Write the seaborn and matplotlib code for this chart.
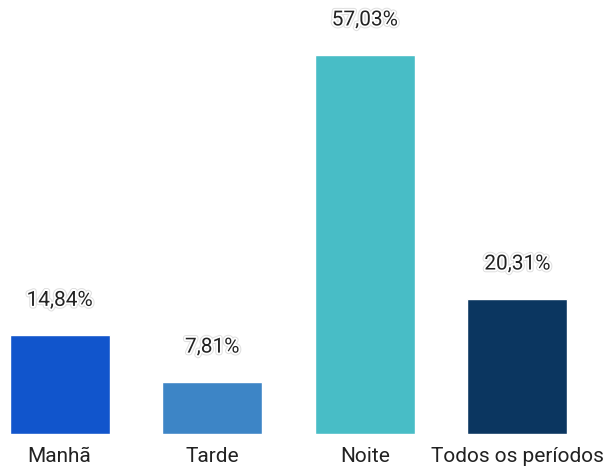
import matplotlib
matplotlib.use("Agg")
import matplotlib.pyplot as plt
import matplotlib.patheffects as pe
import seaborn as sns
import pandas as pd

categories = ["Manhã", "Tarde", "Noite", "Todos os períodos"]
values = [14.84, 7.81, 57.03, 20.31]
labels = ["14,84%", "7,81%", "57,03%", "20,31%"]
colors = ["#1155CC", "#3D85C6", "#48BDC6", "#0B3660"]

sns.set_theme(style="white")
plt.rcParams["font.family"] = ["Roboto", "DejaVu Sans"]

df = pd.DataFrame({"cat": categories, "val": values})

fig = plt.figure(figsize=(6.09, 4.66), dpi=100)
ax = fig.add_axes([0, 32 / 466, 1, 434 / 466])
sns.barplot(data=df, x="cat", y="val", hue="cat", palette=colors,
            width=0.655, legend=False, ax=ax, saturation=1)

ax.set_xlim(-0.39, 3.6)
ax.set_ylim(0, 65.3)
for s in ax.spines.values():
    s.set_visible(False)
ax.set_yticks([])
ax.set_xlabel("")
ax.set_ylabel("")
ax.tick_params(axis="x", length=0, pad=9, labelsize=15, labelcolor="#222222")

effects = [pe.Stroke(linewidth=4, foreground="#e0e0e0"),
           pe.Stroke(linewidth=2.5, foreground="white"), pe.Normal()]
for i, (v, lab) in enumerate(zip(values, labels)):
    ax.annotate(lab, (i, v), xytext=(0, 35), textcoords="offset pixels",
                ha="center", va="center", fontsize=15, color="#222222",
                path_effects=effects)

fig.savefig("out.png", dpi=100)
